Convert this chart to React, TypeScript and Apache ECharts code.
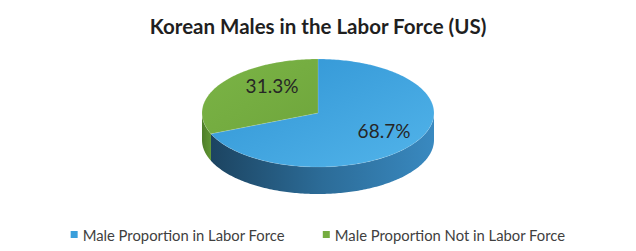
import React, { useEffect, useRef } from "react";
import * as echarts from "echarts";

const chartTitle = "Korean Males in the Labor Force (US)";
const categories = ["Male Proportion in Labor Force", "Male Proportion Not in Labor Force"];
const values = [68.7, 31.3];
const topColors = [
  ["#2F93D3", "#52B4EA"],
  ["#7BB446", "#6FA63C"],
];
const sideColors = [
  ["#3989C0", "#2C6C98", "#1C4461"],
  ["#5F9533", "#578A2E", "#4E7D29"],
];
const legendColors = ["#3A9FDB", "#76AD41"];

const RX = 116;
const RY = 54;
const DEPTH = 27;
const CY = 113;

function renderSlice(i: number, api: any) {
  const cx = api.getWidth() / 2;
  const total = values.reduce((a, b) => a + b, 0);
  const before = values.slice(0, i).reduce((a, b) => a + b, 0);
  const start = (before / total) * Math.PI * 2;
  const end = start + (values[i] / total) * Math.PI * 2;
  const pt = (t: number, dy = 0) => [cx + RX * Math.sin(t), CY - RY * Math.cos(t) + dy];
  const arc = (a: number, b: number, dy = 0) => {
    const pts: number[][] = [];
    const n = Math.max(2, Math.ceil(Math.abs(b - a) / (Math.PI / 180)));
    for (let k = 0; k <= n; k++) pts.push(pt(a + ((b - a) * k) / n, dy));
    return pts;
  };
  const children: any[] = [];
  const sa = Math.max(start, Math.PI / 2);
  const sb = Math.min(end, (Math.PI * 3) / 2);
  if (sb > sa) {
    const sidePts = arc(sa, sb, 0).concat(arc(sb, sa, DEPTH));
    children.push({
      type: "polygon",
      shape: { points: sidePts },
      style: {
        fill: new echarts.graphic.LinearGradient(1, 0, 0, 0, [
          { offset: 0, color: sideColors[i][0] },
          { offset: 0.5, color: sideColors[i][1] },
          { offset: 1, color: sideColors[i][2] },
        ]),
        stroke: null,
      },
    });
  }
  const topPts = [[cx, CY]].concat(arc(start, end, 0));
  children.push({
    type: "polygon",
    shape: { points: topPts },
    style: {
      fill: new echarts.graphic.LinearGradient(0, 0, 1, 1, [
        { offset: 0, color: topColors[i][0] },
        { offset: 1, color: topColors[i][1] },
      ]),
      stroke: "rgba(255,255,255,0.25)",
      lineWidth: 0.5,
    },
  });
  const mid = (start + end) / 2;
  children.push({
    type: "text",
    x: cx + 10 + RX * Math.sin(mid) * 0.58,
    y: CY - 5 - RY * Math.cos(mid) * 0.75,
    style: {
      text: values[i].toFixed(1) + "%",
      align: "center",
      verticalAlign: "middle",
      fontFamily: "Lato",
      fontSize: 19,
      fill: "#262626",
    },
  });
  return { type: "group", children };
}

export default function App() {
  const ref = useRef<HTMLDivElement>(null);
  useEffect(() => {
    if (!ref.current) return;
    const chart = echarts.init(ref.current, null, { renderer: "svg" });
    chart.setOption({
      animation: false,
      title: {
        text: chartTitle,
        left: "center",
        top: 10,
        textStyle: { fontFamily: "Lato", fontWeight: "bold", fontSize: 20.5, color: "#1f1f1f" },
      },
      legend: {
        top: 222,
        left: "center",
        icon: "rect",
        itemWidth: 7,
        itemHeight: 7,
        itemGap: 38,
        selectedMode: false,
        textStyle: { fontFamily: "Lato", fontSize: 14.8, color: "#404040" },
        data: categories,
      },
      series: categories.map((name, i) => ({
        type: "custom",
        name,
        coordinateSystem: "none",
        silent: true,
        itemStyle: { color: legendColors[i] },
        data: [[values[i]]],
        renderItem: (_p: any, api: any) => renderSlice(i, api),
      })),
    });
    return () => chart.dispose();
  }, []);
  return (
    <div
      ref={ref}
      style={{ position: "fixed", left: 0, top: 0, width: 636, height: 251, background: "#fff" }}
    />
  );
}
